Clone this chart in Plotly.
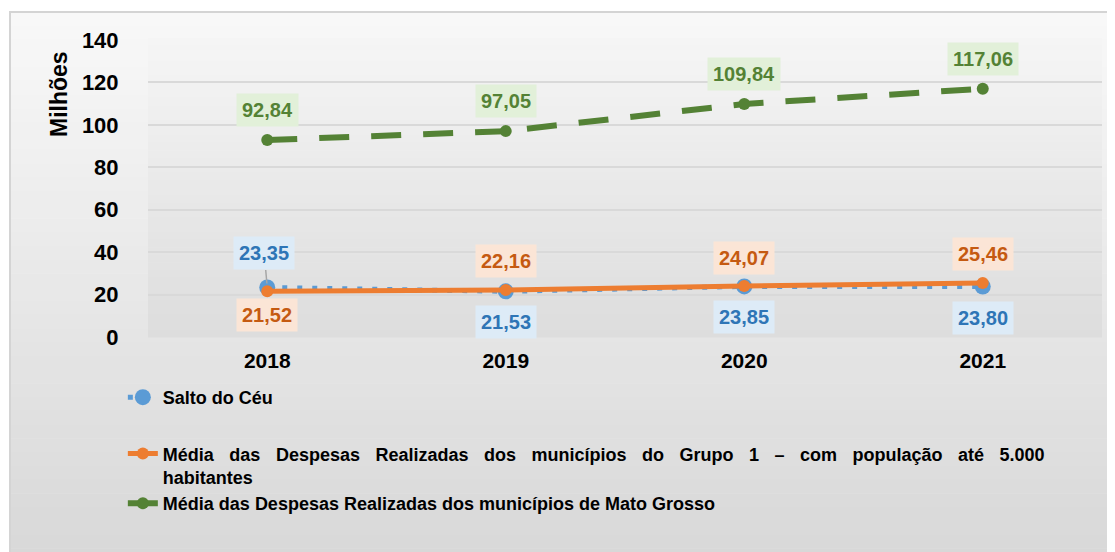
import plotly.graph_objects as go

# ---------- data ----------
anos = ["2018", "2019", "2020", "2021"]
salto_ceu = [23.35, 21.53, 23.85, 23.80]
grupo1 = [21.52, 22.16, 24.07, 25.46]
mato_grosso = [92.84, 97.05, 109.84, 117.06]

nome_salto = "Salto do Céu"
# first line is justified in the original, so the gaps are widened a bit
linha1 = "Média das Despesas Realizadas dos municípios do Grupo 1 – com população até 5.000"
nome_grupo1 = linha1.replace(" ", " \u2002\u200a") + "<br>habitantes"
nome_mt = "Média das Despesas Realizadas dos municípios de Mato Grosso"

y_ticks = [0, 20, 40, 60, 80, 100, 120, 140]
titulo_y = "Milhões"

# label offsets (pixels, negative = above the point)
off_salto = [-34, 31, 31, 31]
off_grupo1 = [24, -29, -28, -29]
off_mt = [-30, -30, -30, -30]

FONT = "Liberation Sans, Arial, sans-serif"
W, H = 1115, 552
OFF = 8  # page body margin
L, R, T, B = 140, 21, 32, 223

fig = go.Figure()

fig.add_trace(go.Scatter(
    x=anos, y=salto_ceu, name=nome_salto, mode="lines+markers",
    line=dict(color="#5B9BD5", width=5, dash="5px,10px"),
    marker=dict(color="#5B9BD5", size=16),
    legendgroup="a",
))
fig.add_trace(go.Scatter(
    x=anos, y=grupo1, name=nome_grupo1, mode="lines+markers",
    line=dict(color="#ED7D31", width=5),
    marker=dict(color="#ED7D31", size=12),
    legendgroup="b",
))
fig.add_trace(go.Scatter(
    x=anos, y=mato_grosso, name=nome_mt, mode="lines+markers",
    line=dict(color="#548235", width=6, dash="30px,22px"),
    marker=dict(color="#548235", size=12),
    legendgroup="b",
))


def fmt(v):
    return f"{v:.2f}".replace(".", ",")


def add_labels(vals, offs, txt_color, bg, leader_idx=None):
    for i, v in enumerate(vals):
        leader = (i == leader_idx)
        fig.add_annotation(
            x=i, y=v, text=fmt(v), showarrow=True,
            ax=-3 if leader else 0, ay=offs[i],
            arrowhead=0, arrowwidth=1.5,
            arrowcolor="#A6A6A6" if leader else "rgba(0,0,0,0)",
            standoff=4,
            font=dict(family=FONT, size=20, color=txt_color, weight="bold"),
            bgcolor=bg, borderpad=5,
        )


add_labels(salto_ceu, off_salto, "#2E75B6", "#DDEBF7", leader_idx=0)
add_labels(grupo1, off_grupo1, "#C55A11", "#FBE5D6")
add_labels(mato_grosso, off_mt, "#548235", "#E2F0D9")

# background gradients (outer frame + plot area), given in page pixels
pw, ph = W - L - R, H - T - B


def px_x(p):
    return (p - OFF - L) / pw


def px_y(p):
    return (H - B - (p - OFF)) / ph


def grad(x0, x1, y0, y1, c0, c1, n=40):
    for k in range(n):
        t = k / (n - 1)
        c = [round(c0[j] + (c1[j] - c0[j]) * t) for j in range(3)]
        ya = y0 + (y1 - y0) * k / n
        yb = y0 + (y1 - y0) * (k + 1) / n
        fig.add_shape(type="rect", xref="paper", yref="paper",
                      x0=px_x(x0), x1=px_x(x1), y0=px_y(ya), y1=px_y(yb + 0.5),
                      fillcolor=f"rgb({c[0]},{c[1]},{c[2]})", line_width=0, layer="below")


grad(10, 1130, 12, 562, (248, 248, 248), (216, 216, 216))
grad(148, 1102, 38, 337, (245, 245, 245), (221, 221, 221))
fig.add_shape(type="rect", xref="paper", yref="paper",
              x0=px_x(10), x1=px_x(1135), y0=px_y(565), y1=px_y(12),
              line=dict(color="#D4D4D4", width=2), fillcolor="rgba(0,0,0,0)", layer="below")

# y axis title (placed as an annotation so it sits next to the tick labels)
fig.add_annotation(
    xref="paper", yref="paper", x=px_x(59), y=px_y(94), text=titulo_y,
    xanchor="center", yanchor="middle",
    textangle=-90, showarrow=False,
    font=dict(family=FONT, size=23, color="black", weight="bold"),
)

fig.update_layout(
    width=W, height=H,
    margin=dict(l=L, r=R, t=T, b=B, autoexpand=False),
    paper_bgcolor="white", plot_bgcolor="rgba(0,0,0,0)",
    font=dict(family=FONT, size=19, color="black"),
    showlegend=True,
    legend=dict(
        xref="container", yref="container", x=0.103, y=0.328,
        xanchor="left", yanchor="top", valign="top",
        font=dict(family=FONT, size=18, color="black", weight="bold"),
        bgcolor="rgba(0,0,0,0)", tracegroupgap=30,
    ),
    xaxis=dict(
        type="category", range=[-0.5, 3.5], showgrid=False, zeroline=False, showline=False,
        ticks="outside", ticklen=5, tickcolor="rgba(0,0,0,0)",
        tickfont=dict(family=FONT, size=21, weight="bold"),
    ),
    yaxis=dict(
        range=[0, 140], tickvals=y_ticks, showgrid=True, gridcolor="#D9D9D9", gridwidth=1.5,
        zeroline=False, showline=False,
        ticks="outside", ticklen=24, tickcolor="rgba(0,0,0,0)",
        tickfont=dict(family=FONT, size=22, weight="bold"),
    ),
)

fig.write_html("out.html")
